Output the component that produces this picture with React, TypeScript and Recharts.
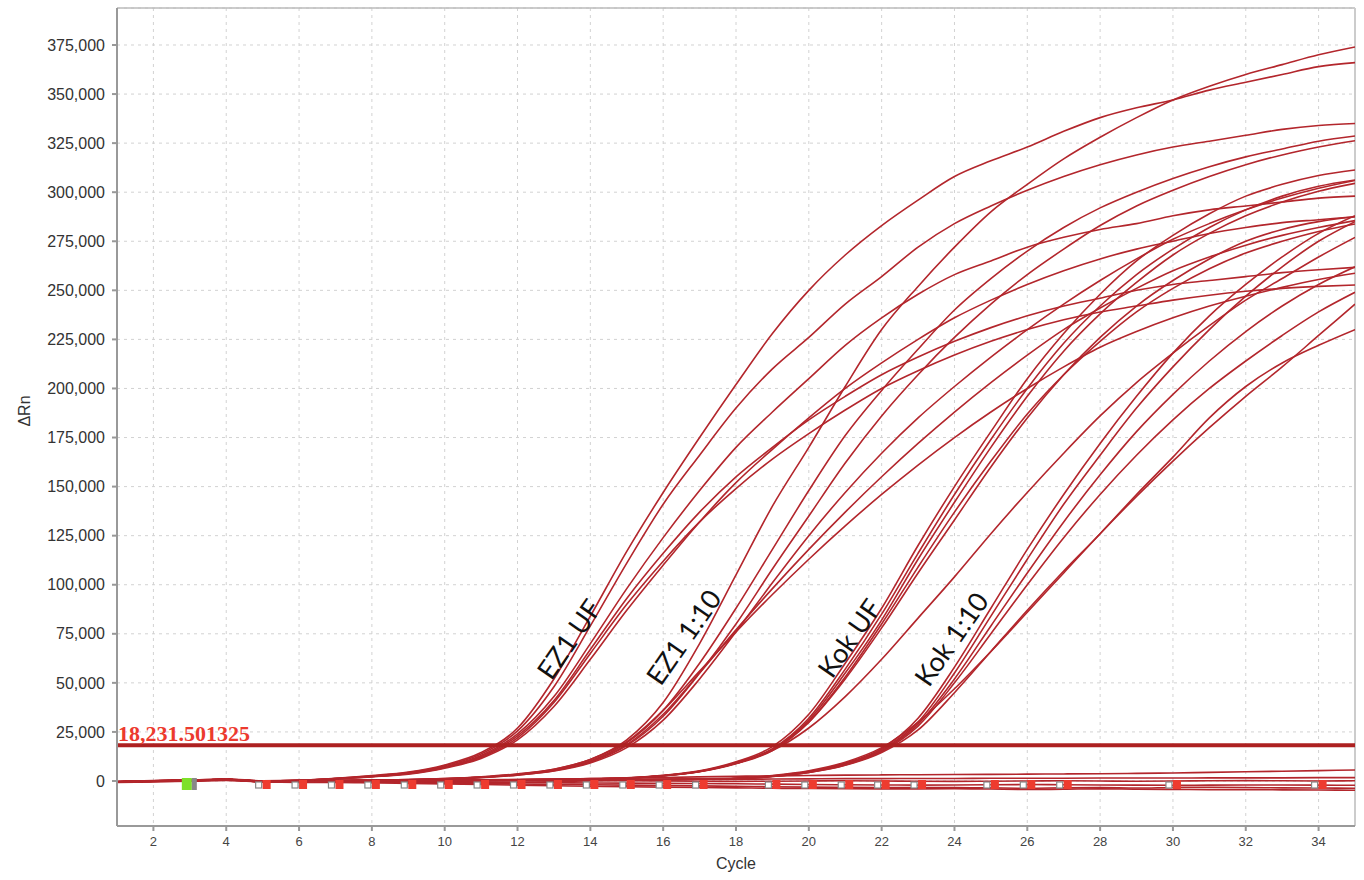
import { ComposedChart, Line, Scatter, XAxis, YAxis, CartesianGrid, ReferenceLine } from 'recharts'

const cycles = [1, 2, 3, 4, 5, 6, 7, 8, 9, 10, 11, 12, 13, 14, 15, 16, 17, 18, 19, 20, 21, 22, 23, 24, 25, 26, 27, 28, 29, 30, 31, 32, 33, 34, 35]
const xTicks = [2, 4, 6, 8, 10, 12, 14, 16, 18, 20, 22, 24, 26, 28, 30, 32, 34]
const yTicks = [0, 25000, 50000, 75000, 100000, 125000, 150000, 175000, 200000, 225000, 250000, 275000, 300000, 325000, 350000, 375000]
const threshold = 18231.501325

// EZ1 UF
const ez1Uf1 = [-400, 100, 400, 900, 0, 400, 1400, 2800, 4600, 8200, 14500, 27000, 52000, 84000, 117000, 147000, 175000, 202000, 228000, 250000, 268000, 283000, 296000, 308000, 316000, 323000, 331000, 338000, 343000, 347000, 352000, 356000, 360000, 364000, 366000]
const ez1Uf2 = [-500, 0, 300, 800, -100, 300, 1300, 2600, 4300, 7800, 13800, 25500, 48000, 79000, 111000, 141000, 166000, 190000, 210000, 226000, 243000, 257000, 272000, 284000, 293000, 301000, 308000, 314000, 319000, 323000, 326000, 329000, 332000, 334000, 335000]
const ez1Uf3 = [-300, 200, 500, 1000, 100, 300, 1200, 2400, 4000, 7300, 13000, 24000, 43000, 70000, 98000, 124000, 148000, 170000, 188000, 205000, 222000, 236000, 248000, 258000, 265000, 272000, 277000, 281000, 284000, 288000, 291000, 293000, 295000, 297000, 298000]
const ez1Uf4 = [-600, -100, 300, 700, -200, 200, 1100, 2300, 3800, 7000, 12500, 23000, 41000, 67000, 93000, 116000, 137000, 155000, 170000, 184000, 196000, 207000, 216000, 224000, 231000, 237000, 242000, 246000, 250000, 253000, 255000, 257000, 259000, 260500, 261700]
const ez1Uf5 = [-400, 0, 400, 900, 0, 300, 1200, 2200, 3700, 6800, 12000, 22000, 40000, 65000, 90000, 112000, 132000, 149000, 164000, 177000, 189000, 200000, 209000, 217000, 224000, 230000, 235000, 239000, 242000, 245000, 247500, 249500, 251000, 252000, 252700]
const ez1Uf6 = [-500, 100, 300, 800, -100, 200, 1000, 2100, 3500, 6500, 11500, 21000, 38000, 62000, 87000, 110000, 132000, 152000, 169000, 185000, 200000, 213000, 225000, 236000, 245000, 253000, 260000, 266000, 271000, 275000, 279000, 282000, 284500, 286000, 287500]

// EZ1 1:10
const ez1Dil1 = [-500, 0, 300, 700, -200, -300, 200, 400, 700, 1200, 2000, 3500, 6000, 11000, 21000, 40000, 70000, 105000, 140000, 170000, 201000, 230000, 252000, 272000, 290000, 304000, 317000, 328000, 338000, 347000, 354000, 360000, 365000, 370000, 374000]
const ez1Dil2 = [-400, 100, 400, 800, -100, -200, 200, 400, 600, 1100, 1900, 3300, 5600, 10200, 19500, 36000, 60000, 88000, 118000, 148000, 176000, 199000, 220000, 240000, 256000, 270000, 282000, 292000, 300000, 307000, 313000, 318000, 322000, 326000, 328600]
const ez1Dil3 = [-600, -100, 200, 600, -300, -400, 100, 300, 500, 1000, 1800, 3100, 5300, 9600, 18000, 33000, 55000, 80000, 108000, 135000, 162000, 186000, 207000, 226000, 243000, 258000, 271000, 283000, 293000, 301000, 308000, 314000, 319000, 323000, 326200]
const ez1Dil4 = [-500, 0, 300, 700, -200, -300, 100, 300, 500, 900, 1700, 3000, 5100, 9200, 17000, 31000, 52000, 76000, 101000, 125000, 147000, 167000, 185000, 201000, 216000, 230000, 243000, 255000, 266000, 276000, 284000, 291000, 297000, 302000, 306000]
const ez1Dil5 = [-400, 0, 400, 800, -100, -200, 200, 400, 600, 1100, 1900, 3300, 5600, 10000, 18500, 34000, 55000, 77000, 98000, 118000, 137000, 155000, 172000, 188000, 203000, 217000, 230000, 241000, 251000, 260000, 267000, 273000, 278000, 282000, 285500]
const ez1Dil6 = [-500, 100, 300, 700, -200, -300, 200, 400, 700, 1200, 2100, 3600, 6000, 11000, 20000, 36000, 56000, 76000, 95000, 113000, 130000, 146000, 161000, 175000, 188000, 200000, 211000, 221000, 229000, 236000, 242000, 247000, 251500, 255500, 258700]

// Kok UF
const kokUf1 = [-500, 0, 300, 700, -300, -400, 0, 200, 300, 400, 500, 700, 900, 1200, 1600, 2900, 5200, 9800, 17500, 34000, 60000, 88000, 120000, 150000, 178000, 205000, 228000, 248000, 265000, 278000, 289000, 298000, 304000, 308500, 311300]
const kokUf2 = [-400, 100, 400, 800, -200, -300, 100, 200, 300, 400, 500, 600, 800, 1100, 1500, 2800, 5000, 9400, 16500, 32000, 57000, 85000, 116000, 146000, 174000, 200000, 223000, 242000, 258000, 271000, 282000, 291000, 298000, 303000, 306200]
const kokUf3 = [-600, -100, 200, 600, -300, -500, -100, 100, 200, 300, 400, 500, 700, 1000, 1400, 2700, 4800, 9000, 16000, 31000, 55000, 82000, 113000, 142000, 170000, 196000, 219000, 238000, 254000, 268000, 279000, 288000, 295000, 300500, 304500]
const kokUf4 = [-500, 0, 300, 700, -200, -400, 0, 100, 200, 300, 400, 600, 800, 1000, 1400, 2600, 4700, 8800, 15500, 30000, 53000, 80000, 109000, 137000, 163000, 187000, 207000, 224000, 239000, 251000, 261000, 269000, 275000, 280000, 283800]
const kokUf5 = [-400, 0, 400, 800, -100, -300, 0, 200, 300, 400, 500, 600, 800, 1100, 1500, 2700, 4900, 9000, 15500, 27000, 43000, 62000, 83000, 104000, 126000, 147000, 167000, 186000, 203000, 218000, 232000, 245000, 256000, 267000, 277000]
const kokUf6 = [-500, 100, 300, 700, -200, -400, 0, 100, 200, 300, 400, 600, 800, 1100, 1500, 2700, 4800, 9000, 16000, 30000, 52000, 78000, 106000, 133000, 160000, 185000, 207000, 226000, 242000, 255000, 266000, 275000, 281000, 285000, 287500]

// Kok 1:10
const kokDil1 = [-500, 0, 300, 700, -300, -400, -100, 0, 100, 200, 300, 400, 500, 600, 700, 800, 1000, 1400, 2600, 4900, 9200, 16500, 32000, 58000, 88000, 118000, 146000, 172000, 196000, 218000, 237000, 253000, 267000, 279000, 288000]
const kokDil2 = [-400, 100, 400, 800, -200, -300, 0, 100, 200, 300, 300, 400, 500, 600, 700, 800, 1000, 1300, 2500, 4700, 8800, 16000, 30000, 55000, 84000, 113000, 141000, 166000, 190000, 211000, 230000, 247000, 262000, 275000, 285000]
const kokDil3 = [-600, -100, 200, 600, -400, -500, -200, -100, 0, 100, 200, 300, 400, 500, 600, 700, 900, 1300, 2400, 4500, 8500, 15500, 29000, 52000, 79000, 106000, 132000, 156000, 178000, 197000, 214000, 229000, 242000, 253000, 262000]
const kokDil4 = [-500, 0, 300, 700, -300, -400, -100, 0, 100, 200, 300, 300, 400, 500, 600, 700, 900, 1200, 2300, 4400, 8200, 15000, 28000, 50000, 75000, 100000, 124000, 146000, 166000, 184000, 200000, 214000, 227000, 239000, 249000]
const kokDil5 = [-400, 0, 400, 800, -200, -300, 0, 100, 200, 300, 400, 500, 600, 700, 800, 900, 1100, 1500, 2800, 5200, 9600, 17000, 30000, 47000, 66000, 86000, 106000, 126000, 145000, 163000, 180000, 196000, 211000, 227000, 243000]
const kokDil6 = [-500, 100, 300, 700, -300, -400, -100, 0, 100, 200, 300, 400, 400, 500, 600, 700, 900, 1200, 2300, 4300, 8000, 14500, 26000, 45000, 66000, 87000, 107000, 126000, 146000, 165000, 185000, 201000, 213000, 222000, 230000]

// no amplification
const flat1 = [-300, 0, 300, 600, 0, -200, 200, 300, 400, 500, 600, 800, 1000, 1200, 1500, 1800, 2100, 2400, 2600, 2800, 3000, 3100, 3200, 3300, 3400, 3500, 3600, 3700, 3900, 4100, 4400, 4700, 5000, 5300, 5600]
const flat2 = [-400, -100, 200, 600, -100, -300, 0, 100, 200, 300, 300, 400, 500, 600, 600, 700, 800, 900, 1000, 1100, 1200, 1200, 1300, 1300, 1400, 1400, 1400, 1500, 1500, 1500, 1600, 1600, 1600, 1700, 1700]
const flat3 = [-500, -200, 100, 500, -200, -400, -100, 0, -100, 0, 100, 0, -100, 0, 100, 0, -100, -200, -100, 0, 100, 0, -100, -200, -100, 0, 100, 0, -100, 0, 100, 200, 100, 0, 100]
const flat4 = [-500, -200, 100, 500, -300, -500, -300, -400, -500, -600, -700, -800, -900, -1000, -1100, -1200, -1300, -1400, -1600, -1800, -1900, -2000, -2100, -2000, -1900, -1800, -1900, -2000, -2100, -2200, -2100, -2000, -2000, -2100, -2200]
const flat5 = [-600, -300, 0, 400, -400, -600, -500, -700, -900, -1100, -1300, -1500, -1700, -1900, -2100, -2300, -2500, -2700, -2900, -3100, -3200, -3300, -3400, -3300, -3500, -3700, -3500, -3400, -3600, -3300, -3200, -3300, -3500, -3600, -3700]
const flat6 = [-700, -400, -100, 300, -500, -700, -700, -900, -1200, -1500, -1800, -2100, -2400, -2700, -2900, -3100, -3300, -3500, -3700, -3800, -3900, -4000, -4000, -3900, -4100, -4300, -4200, -4000, -4200, -4300, -4400, -4400, -4500, -4600, -4700]

const baselineCycles = [5, 6, 7, 8, 9, 10, 11, 12, 13, 14, 15, 16, 17, 19, 20, 21, 22, 23, 25, 26, 27, 30, 34]
const startCycle = [3]

const groupLabels = [
  { cycle: 13.4, y: 72500, text: 'EZ1 UF' },
  { cycle: 16.55, y: 73500, text: 'EZ1 1:10' },
  { cycle: 21.1, y: 73000, text: 'Kok UF' },
  { cycle: 23.9, y: 72500, text: 'Kok 1:10' },
]

const series: [string, number[]][] = [
  ['flat1', flat1], ['flat2', flat2], ['flat3', flat3], ['flat4', flat4], ['flat5', flat5], ['flat6', flat6],
  ['ez1Uf1', ez1Uf1], ['ez1Uf2', ez1Uf2], ['ez1Uf3', ez1Uf3], ['ez1Uf4', ez1Uf4], ['ez1Uf5', ez1Uf5], ['ez1Uf6', ez1Uf6],
  ['ez1Dil1', ez1Dil1], ['ez1Dil2', ez1Dil2], ['ez1Dil3', ez1Dil3], ['ez1Dil4', ez1Dil4], ['ez1Dil5', ez1Dil5], ['ez1Dil6', ez1Dil6],
  ['kokUf1', kokUf1], ['kokUf2', kokUf2], ['kokUf3', kokUf3], ['kokUf4', kokUf4], ['kokUf5', kokUf5], ['kokUf6', kokUf6],
  ['kokDil1', kokDil1], ['kokDil2', kokDil2], ['kokDil3', kokDil3], ['kokDil4', kokDil4], ['kokDil5', kokDil5], ['kokDil6', kokDil6],
]

const rows = cycles.map((cycle, i) => {
  const row: Record<string, number> = { cycle }
  series.forEach(([key, values]) => {
    row[key] = values[i]
  })
  return row
})

const baselineMarks = baselineCycles.map((cycle) => ({ cycle, y: 0 }))
const startMarks = startCycle.map((cycle) => ({ cycle, y: 0 }))

const curveColor = '#b3262c'
const axisFont = 'Liberation Sans, Arial, sans-serif'

function BaselineMark(props: any) {
  const { cx, cy } = props
  return (
    <g>
      <rect x={cx - 7} y={cy + 1} width={6} height={6} fill="#fff" stroke="#888" strokeWidth={1.2} />
      <rect x={cx} y={cy - 1} width={8} height={9} fill="#ee3b2f" />
    </g>
  )
}

function StartMark(props: any) {
  const { cx, cy } = props
  return (
    <g>
      <rect x={cx - 8} y={cy - 3} width={10} height={12} fill="#7ee02a" />
      <rect x={cx + 2} y={cy - 3} width={5} height={12} fill="#888" />
    </g>
  )
}

function GroupLabel(props: any) {
  const { cx, cy, payload } = props
  return (
    <text
      transform={`translate(${cx},${cy}) rotate(-55)`}
      textAnchor="middle"
      dominantBaseline="central"
      fontFamily="Lato, 'Open Sans', sans-serif"
      fontSize={27}
      fill="#111"
    >
      {payload.text}
    </text>
  )
}

function ThresholdLabel(props: any) {
  const { viewBox } = props
  return (
    <text
      x={viewBox.x + 1}
      y={viewBox.y - 4}
      fontFamily="'Liberation Serif', 'Times New Roman', serif"
      fontWeight="bold"
      fontSize={22}
      fill="#ec3a2e"
    >
      18,231.501325
    </text>
  )
}

function YLabel(props: any) {
  const { viewBox } = props
  const x = viewBox.x + 22
  const y = viewBox.y + viewBox.height / 2 - 6
  return (
    <text transform={`translate(${x},${y}) rotate(-90)`} textAnchor="middle" fontFamily={axisFont} fontSize={16} fill="#333">
      ΔRn
    </text>
  )
}

function XLabel(props: any) {
  const { viewBox } = props
  return (
    <text x={viewBox.x + viewBox.width / 2} y={viewBox.y + 43} textAnchor="middle" fontFamily={axisFont} fontSize={16} fill="#333">
      Cycle
    </text>
  )
}

const yDomain = [-22928, 393850]

export default function App() {
  return (
    <div style={{ position: 'fixed', left: 0, top: 0, width: 1364, height: 880, background: '#fff' }}>
      <ComposedChart width={1364} height={880} data={rows} margin={{ top: 8, right: 9, bottom: 0, left: 8 }}>
        <CartesianGrid stroke="#d2d2d2" strokeDasharray="3 4" />
        <XAxis
          type="number"
          dataKey="cycle"
          domain={[1, 35]}
          ticks={xTicks}
          allowDataOverflow
          height={54}
          stroke="#999"
          strokeWidth={2}
          tickSize={5}
          tickMargin={6}
          tick={{ fontSize: 13, fill: '#444', fontFamily: axisFont }}
          label={<XLabel />}
        />
        <YAxis
          type="number"
          domain={yDomain}
          ticks={yTicks}
          allowDataOverflow
          width={109}
          stroke="#999"
          strokeWidth={2}
          tickSize={5}
          tickMargin={7}
          tick={{ fontSize: 16, fill: '#333', fontFamily: axisFont }}
          tickFormatter={(v: number) => v.toLocaleString('en-US')}
          label={<YLabel />}
        />
        <ReferenceLine y={yDomain[1]} stroke="#bbb" strokeWidth={1.5} />
        <ReferenceLine x={35} stroke="#ccc" strokeWidth={2} />
        {series.map(([key]) => (
          <Line
            key={key}
            dataKey={key}
            type="monotone"
            stroke={curveColor}
            strokeWidth={1.6}
            dot={false}
            activeDot={false}
            isAnimationActive={false}
          />
        ))}
        <ReferenceLine y={threshold} stroke="#ad2121" strokeWidth={4} label={<ThresholdLabel />} />
        <Scatter data={baselineMarks} dataKey="y" shape={BaselineMark} isAnimationActive={false} />
        <Scatter data={startMarks} dataKey="y" shape={StartMark} isAnimationActive={false} />
        <Scatter data={groupLabels} dataKey="y" shape={GroupLabel} isAnimationActive={false} />
      </ComposedChart>
    </div>
  )
}
